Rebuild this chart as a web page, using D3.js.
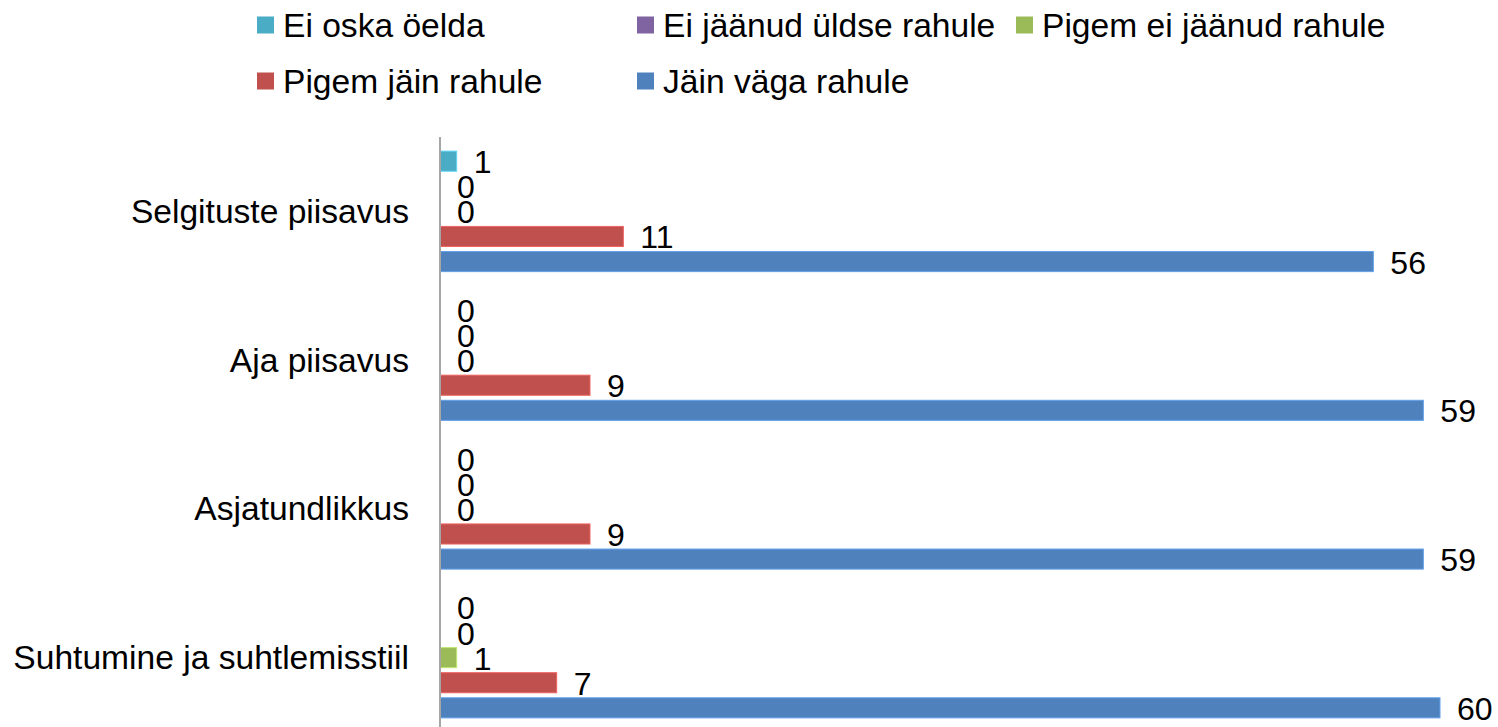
<!DOCTYPE html>
<html>
<head>
<meta charset="utf-8">
<script src="https://cdnjs.cloudflare.com/ajax/libs/d3/7.8.5/d3.min.js"></script>
<style>
    body { margin: 0; background: #ffffff; }
    text { font-family: "Liberation Sans", Arial, sans-serif; fill: #000000; }
</style>
</head>
<body>
<div id="plot_canvas_bars"></div>
<script>
// chart data
const categories = ['Selgituste piisavus', 'Aja piisavus', 'Asjatundlikkus', 'Suhtumine ja suhtlemisstiil'];
const seriesNames = ['Ei oska öelda', 'Ei jäänud üldse rahule', 'Pigem ei jäänud rahule', 'Pigem jäin rahule', 'Jäin väga rahule'];
const seriesColors = ['#4bacc6', '#8064a2', '#9bbb59', '#c0504d', '#4f81bd'];
const eiOska = [1, 0, 0, 0];
const eiUldse = [0, 0, 0, 0];
const pigemEi = [0, 0, 0, 1];
const pigemJah = [11, 9, 9, 7];
const vagaRahul = [56, 59, 59, 60];
const seriesValues = [eiOska, eiUldse, pigemEi, pigemJah, vagaRahul];

drawBars();

function drawBars() {

    const width = 1498;
    const height = 727;

    d3.selectAll('svg').remove();

    const svg = d3.select('#plot_canvas_bars')
        .append('svg')
        .attr('width', width)
        .attr('height', height);

    // scales
    const x = d3.scaleLinear().domain([0, 60]).range([440, 1440]);

    const y = d3.scaleBand()
        .domain(categories)
        .range([137, 732])
        .paddingInner(0.19)
        .paddingOuter(0.095);

    const ySeries = d3.scaleBand()
        .domain(seriesNames)
        .range([0, y.bandwidth()])
        .paddingInner(0.2)
        .paddingOuter(0);

    // flatten to one row per bar
    const rows = [];
    categories.forEach(function (c, ci) {
        seriesNames.forEach(function (s, si) {
            rows.push({ cat: c, series: s, color: seriesColors[si], value: seriesValues[si][ci] });
        });
    });

    // bars
    svg.append('g')
        .selectAll('rect')
        .data(rows.filter(d => d.value > 0))
        .join('rect')
        .attr('x', x(0))
        .attr('y', d => y(d.cat) + ySeries(d.series))
        .attr('width', d => x(d.value) - x(0))
        .attr('height', ySeries.bandwidth())
        .attr('fill', d => d.color)
        .attr('stroke', d => d3.color(d.color).brighter(0.6))
        .attr('stroke-width', 1);

    // value labels
    svg.append('g')
        .selectAll('text')
        .data(rows)
        .join('text')
        .attr('x', d => x(d.value) + 17)
        .attr('y', d => y(d.cat) + ySeries(d.series) + ySeries.bandwidth() / 2 + 1)
        .attr('dominant-baseline', 'central')
        .style('font-size', '32px')
        .text(d => d.value);

    // vertical axis line
    svg.append('line')
        .attr('x1', x(0)).attr('x2', x(0))
        .attr('y1', 137).attr('y2', height)
        .attr('stroke', '#a6a6a6')
        .attr('stroke-width', 2);

    // category labels
    svg.append('g')
        .selectAll('text')
        .data(categories)
        .join('text')
        .attr('x', 409)
        .attr('y', d => y(d) + y.bandwidth() / 2)
        .attr('text-anchor', 'end')
        .attr('dominant-baseline', 'central')
        .style('font-size', '33.6px')
        .text(d => d);

    // legend, two rows
    const legendX = [257, 637, 1016];
    const legendY = [25, 81];
    const legend = svg.append('g')
        .selectAll('g')
        .data(seriesNames)
        .join('g')
        .attr('transform', (d, i) => 'translate(' + legendX[i % 3] + ',' + legendY[Math.floor(i / 3)] + ')');

    legend.append('rect')
        .attr('x', 0).attr('y', -8.5)
        .attr('width', 17).attr('height', 17)
        .attr('fill', (d, i) => seriesColors[i]);

    legend.append('text')
        .attr('x', 26)
        .attr('y', 0)
        .attr('dominant-baseline', 'central')
        .style('font-size', '33.6px')
        .text(d => d);
}
</script>
</body>
</html>
